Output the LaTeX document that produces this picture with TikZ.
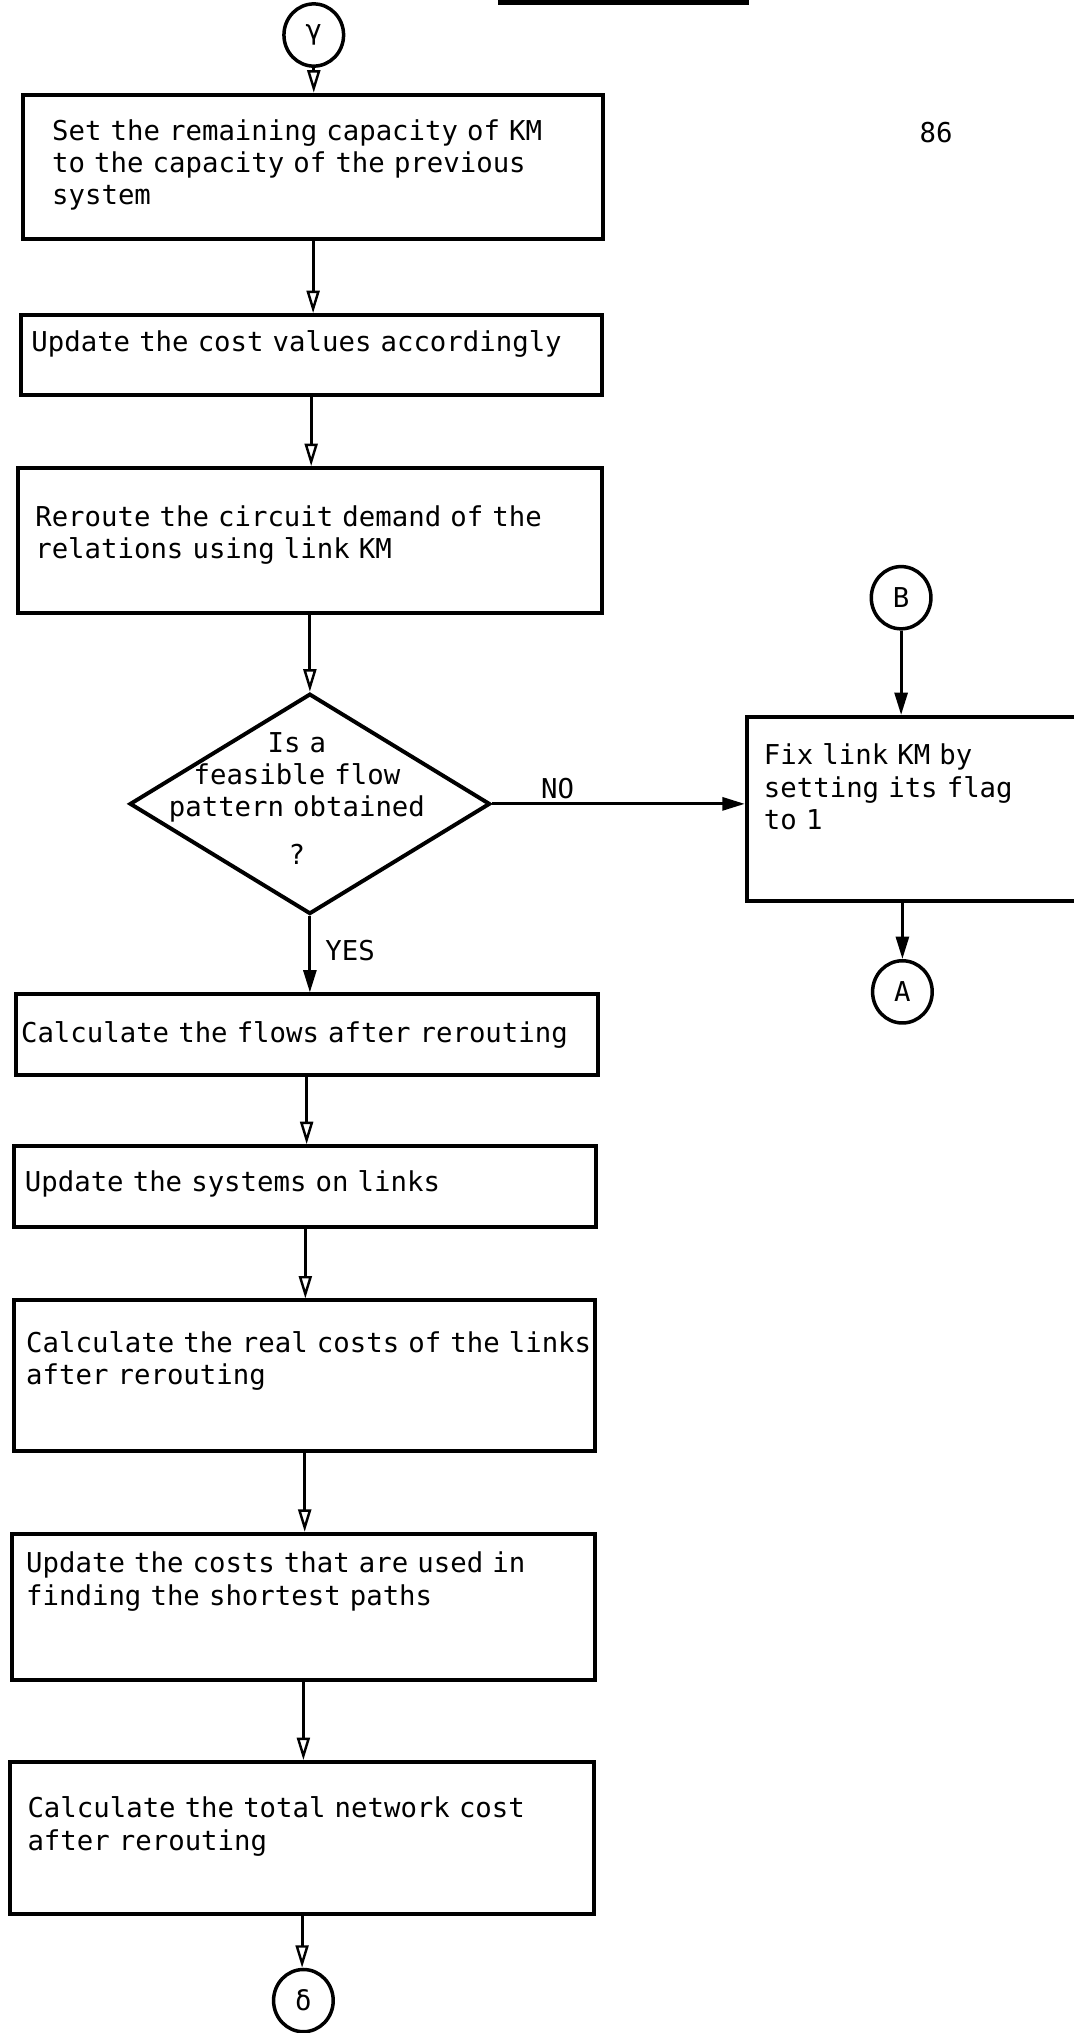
\documentclass[tikz,border=0pt]{standalone}
\usepackage{fontspec}
\setmonofont{DejaVu Sans Mono}
\usetikzlibrary{arrows.meta,shapes.geometric,fit,calc}
\begin{document}
\begin{tikzpicture}[x=0.03cm,y=-0.03cm,
  box/.style={draw,line width=2.6pt,rectangle,inner sep=0pt},
  txt/.style={inner sep=0pt,align=left,text width=15cm,anchor=base west,font=\ttfamily\fontsize{18}{21.3}\selectfont},
  lbl/.style={inner sep=0pt,anchor=base,font=\ttfamily\fontsize{18}{21.3}\selectfont},
  conn/.style={draw,ellipse,line width=2.3pt,inner sep=0pt,minimum width=1.38cm,minimum height=1.44cm,font=\ttfamily\fontsize{18}{21.3}\selectfont},
  arr/.style={line width=2pt,-{Triangle[open,length=0.52cm,width=0.3cm,line width=1.6pt]}},
  arrf/.style={line width=2pt,-{Triangle[length=0.52cm,width=0.3cm]}}
]
\useasboundingbox (0,0) rectangle (828,1568);
\fill[white] (0,0) rectangle (828,1568);
% header rule
\draw[line width=3pt] (384,2) -- (578,2);

% connectors (circles)
\node[conn] (g) at (242,27) {γ};
\node[conn] (B) at (695,461) {B};
\node[conn] (A) at (696,765) {A};
\node[conn] (dl) at (234,1543) {δ};

% page number
\node[lbl] (pn) at (722,110) {86};

% boxes
\node[box,fit={(18,73) (465,184)}] (b1) {};
\node[txt] (t1) at (40,108) {Set the remaining capacity of KM\\to the capacity of the previous\\system};

\node[box,fit={(16,243) (464,305)}] (b2) {};
\node[txt] (t2) at (24,271) {Update the cost values accordingly};

\node[box,fit={(14,361) (464,473)}] (b3) {};
\node[txt] (t3) at (27,406) {Reroute the circuit demand of the\\relations using link KM};

\node[draw,diamond,line width=2.6pt,inner sep=0pt,aspect=1.63,minimum width=8.34cm,minimum height=5.1cm] (d) at (239,620) {};
\node[lbl,align=center,text width=8cm] (dt) at (229,580) {Is a\\feasible flow\\pattern obtained\\[0.36cm]?};

\node[box,fit={(576,553) (870,695)}] (fx) {};
\node[txt] (tfx) at (589,590) {Fix link KM by\\setting its flag\\to 1};

\node[box,fit={(12,767) (461,829)}] (b4) {};
\node[txt] (t4) at (16,804) {Calculate the flows after rerouting};

\node[box,fit={(11,884) (460,946)}] (b5) {};
\node[txt] (t5) at (19,919) {Update the systems on links};

\node[box,fit={(11,1003) (459,1119)}] (b6) {};
\node[txt] (t6) at (20,1043) {Calculate the real costs of the links\\after rerouting};

\node[box,fit={(9,1183) (459,1296)}] (b7) {};
\node[txt] (t7) at (20,1213) {Update the costs that are used in\\finding the shortest paths};

\node[box,fit={(8,1359) (458,1476)}] (b8) {};
\node[txt] (t8) at (21,1402) {Calculate the total network cost\\after rerouting};

% labels
\node[lbl] (no) at (430,616) {NO};
\node[lbl] (yes) at (270,741) {YES};

% flow
\draw[arr] (g.south) -- (g.south |- b1.north);
\draw[arr] (b1.south) -- (b1.south |- b2.north);
\draw[arr] (b2.south) -- (b2.south |- b3.north);
\draw[arr] (b3.south) -- (b3.south |- d.north);
\draw[arrf] (d.south) -- (d.south |- b4.north);
\draw[arrf] (d.east) -- (d.east -| fx.west);
\draw[arrf] (B.south) -- (B.south |- fx.north);
\draw[arrf] (A.north |- fx.south) -- (A.north);
\draw[arr] (b4.south) -- (b4.south |- b5.north);
\draw[arr] (b5.south) -- (b5.south |- b6.north);
\draw[arr] (b6.south) -- (b6.south |- b7.north);
\draw[arr] (b7.south) -- (b7.south |- b8.north);
\draw[arr] (b8.south) -- (b8.south |- dl.north);
\end{tikzpicture}
\end{document}
